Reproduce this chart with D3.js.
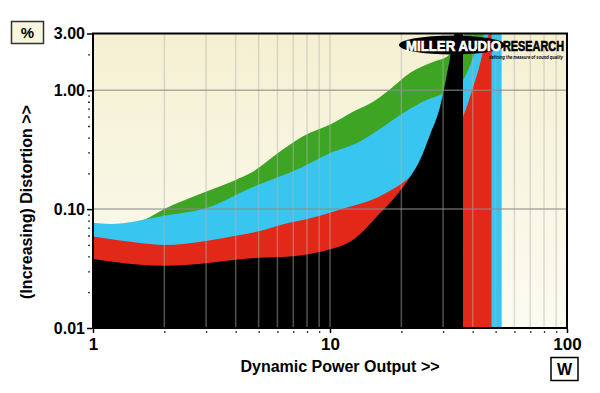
<!DOCTYPE html>
<html>
<head>
<meta charset="utf-8">
<script src="https://cdn.jsdelivr.net/npm/d3@7"></script>
<style>
  body { margin: 0; background: #fff; }
  text { font-family: "Liberation Sans", Arial, sans-serif; font-weight: bold; }
</style>
</head>
<body>
<script>
// distortion vs dynamic power, one area per load
let greenW   = [1, 1.3, 1.66, 1.97, 3.03, 4.0, 4.6, 6.3, 7.7, 10.3, 12.5, 15.2, 17.4, 21.8, 27.2, 31, 38, 50.6];
let greenPct = [0.072, 0.073, 0.082, 0.0986, 0.141, 0.176, 0.20, 0.315, 0.41, 0.53, 0.66, 0.80, 0.97, 1.40, 1.73, 1.90, 3.0, 3.0];

let cyanW   = [1, 1.18, 1.97, 3.03, 4.6, 7.5, 10.3, 13, 16.7, 20.3, 25.7, 29.1, 36.4, 46, 53];
let cyanPct = [0.0767, 0.075, 0.0877, 0.1025, 0.15, 0.222, 0.303, 0.36, 0.49, 0.64, 0.83, 0.91, 1.22, 3.0, 3.0];

let redW   = [1, 1.58, 2, 3, 4, 5, 6.8, 7.7, 11, 16.7, 21.8, 28, 36.4, 41.7, 47.5, 48];
let redPct = [0.0588, 0.052, 0.050, 0.054, 0.0596, 0.065, 0.077, 0.081, 0.099, 0.132, 0.187, 0.33, 0.6, 1.34, 3.0, 3.0];

let blackW   = [1, 1.58, 2, 3, 4, 5, 6.8, 10, 12.1, 13.3, 16.3, 18.4, 21.8, 24, 26.4, 29.1, 32, 33.7, 36.4];
let blackPct = [0.038, 0.034, 0.0334, 0.035, 0.0375, 0.039, 0.040, 0.046, 0.053, 0.061, 0.093, 0.12, 0.187, 0.26, 0.42, 0.72, 1.8, 3.0, 3.0];

let yTickValues = [3, 1, 0.1, 0.01];
let yTickLabels = ["3.00", "1.00", "0.10", "0.01"];
let xTickValues = [1, 10, 100];
let xTickLabels = ["1", "10", "100"];

// plot box
let pLeft = 93, pRight = 567, pTop = 33.5, pBottom = 328;

let x = d3.scaleLog().domain([1, 100]).range([pLeft, pRight]);
let y = d3.scaleLog().domain([0.01, 3]).range([pBottom, pTop]);

let svg = d3.select("body").append("svg")
    .attr("width", 600)
    .attr("height", 393);

// cream background gradient
let grad = svg.append("defs").append("linearGradient")
    .attr("id", "bg").attr("x1", 0).attr("y1", 0).attr("x2", 0).attr("y2", 1);
grad.append("stop").attr("offset", "0%").attr("stop-color", "#f5f0d2");
grad.append("stop").attr("offset", "100%").attr("stop-color", "#fcfbf1");

svg.append("rect")
    .attr("x", pLeft).attr("y", pTop)
    .attr("width", pRight - pLeft).attr("height", pBottom - pTop)
    .attr("fill", "url(#bg)");

// the areas, back to front
let area = d3.area()
    .curve(d3.curveMonotoneX)
    .x(d => x(d[0]))
    .y0(y(0.01))
    .y1(d => y(d[1]));

let series = [
  {w: greenW, v: greenPct, color: "#3ea423"},
  {w: cyanW,  v: cyanPct,  color: "#38c5f0"},
  {w: redW,   v: redPct,   color: "#e22818"},
  {w: blackW, v: blackPct, color: "#000000"}
];

series.forEach(function(s) {
  svg.append("path")
    .datum(d3.zip(s.w, s.v))
    .attr("fill", s.color)
    .attr("d", area);
});

// grid on top, semi transparent
let minorX = [];
[1, 10].forEach(function(dec) {
  for (let k = 2; k <= 9; k++) minorX.push(dec * k);
});
minorX.push(10);

svg.append("g").selectAll("line")
  .data(minorX)
  .join("line")
    .attr("x1", d => x(d)).attr("x2", d => x(d))
    .attr("y1", pTop).attr("y2", pBottom)
    .attr("stroke", "#b4b4b4")
    .attr("stroke-opacity", 0.45)
    .attr("stroke-width", 1.5);

svg.append("g").selectAll("line")
  .data([1, 0.1])
  .join("line")
    .attr("x1", pLeft).attr("x2", pRight)
    .attr("y1", d => y(d)).attr("y2", d => y(d))
    .attr("stroke", "#8c8c8c")
    .attr("stroke-opacity", 0.7)
    .attr("stroke-width", 1.5);

// frame
svg.append("rect")
    .attr("x", pLeft).attr("y", pTop)
    .attr("width", pRight - pLeft).attr("height", pBottom - pTop)
    .attr("fill", "none")
    .attr("stroke", "#000")
    .attr("stroke-width", 2);

// y axis: major ticks + minor dots
let minorY = [0.02, 0.03, 0.04, 0.05, 0.06, 0.07, 0.08, 0.09,
              0.2, 0.3, 0.4, 0.5, 0.6, 0.7, 0.8, 0.9, 2];
svg.append("g").call(d3.axisLeft(y).tickValues(minorY).tickSize(2).tickFormat(""))
    .attr("transform", "translate(" + (pLeft - 3) + ",0)")
    .call(g => g.select(".domain").remove())
    .selectAll("line").attr("stroke", "#333").attr("stroke-width", 1.3);

let yAxis = svg.append("g")
    .attr("transform", "translate(" + (pLeft - 1) + ",0)")
    .call(d3.axisLeft(y).tickValues(yTickValues).tickSize(5).tickPadding(2)
        .tickFormat((d, i) => yTickLabels[i]));
yAxis.select(".domain").remove();
yAxis.selectAll("line").attr("stroke", "#000").attr("stroke-width", 1.5);
yAxis.selectAll("text")
    .attr("font-family", "Liberation Sans, Arial, sans-serif")
    .attr("font-weight", "bold")
    .attr("font-size", 16)
    .attr("fill", "#000");

// x axis: minor dots + labels
svg.append("g").call(d3.axisBottom(x).tickValues(minorX.filter(d => d !== 10)).tickSize(2).tickFormat(""))
    .attr("transform", "translate(0," + (pBottom + 3) + ")")
    .call(g => g.select(".domain").remove())
    .selectAll("line").attr("stroke", "#333").attr("stroke-width", 1.3);

let xAxis = svg.append("g")
    .attr("transform", "translate(0," + (pBottom + 1) + ")")
    .call(d3.axisBottom(x).tickValues(xTickValues).tickSize(4).tickPadding(5)
        .tickFormat((d, i) => xTickLabels[i]));
xAxis.select(".domain").remove();
xAxis.selectAll("line").attr("stroke", "#000").attr("stroke-width", 1.5);
xAxis.selectAll("text")
    .attr("font-family", "Liberation Sans, Arial, sans-serif")
    .attr("font-weight", "bold")
    .attr("font-size", 17)
    .attr("fill", "#000");

// axis titles
svg.append("text")
    .attr("x", 340).attr("y", 372)
    .attr("text-anchor", "middle")
    .attr("font-size", 16)
    .text("Dynamic Power Output >>");

svg.append("text")
    .attr("transform", "translate(32,202) rotate(-90)")
    .attr("text-anchor", "middle")
    .attr("font-size", 16)
    .text("(Increasing) Distortion >>");

// unit boxes
svg.append("rect")
    .attr("x", 11.5).attr("y", 21.5).attr("width", 32).attr("height", 22)
    .attr("fill", "#f8f6dc").attr("stroke", "#333").attr("stroke-width", 1.5);
svg.append("text")
    .attr("x", 27.5).attr("y", 38).attr("text-anchor", "middle")
    .attr("font-size", 15).text("%");

svg.append("rect")
    .attr("x", 551).attr("y", 357.5).attr("width", 27).attr("height", 23)
    .attr("fill", "#fff").attr("stroke", "#000").attr("stroke-width", 1.5);
svg.append("text")
    .attr("x", 564.5).attr("y", 375).attr("text-anchor", "middle")
    .attr("font-size", 16).text("W");

// logo
let logo = svg.append("g");
logo.append("ellipse")
    .attr("cx", 452).attr("cy", 45).attr("rx", 53).attr("ry", 9.5)
    .attr("fill", "#000");
logo.append("text")
    .attr("x", 406).attr("y", 51)
    .attr("font-size", 14.5)
    .attr("textLength", 95).attr("lengthAdjust", "spacingAndGlyphs")
    .attr("fill", "#fff").attr("stroke", "#fff").attr("stroke-width", 0.6)
    .text("MILLER AUDIO");
logo.append("text")
    .attr("x", 503).attr("y", 51)
    .attr("font-size", 14.5)
    .attr("textLength", 61).attr("lengthAdjust", "spacingAndGlyphs")
    .attr("fill", "#000").attr("stroke", "#000").attr("stroke-width", 0.6)
    .text("RESEARCH");
logo.append("text")
    .attr("x", 489).attr("y", 58.5)
    .attr("font-size", 6)
    .attr("font-style", "italic")
    .attr("textLength", 74).attr("lengthAdjust", "spacingAndGlyphs")
    .attr("fill", "#000")
    .text("defining the measure of sound quality");
</script>
</body>
</html>
